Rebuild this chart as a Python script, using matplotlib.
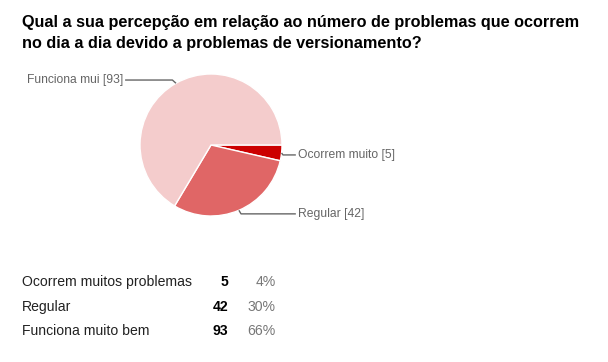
import matplotlib.pyplot as plt
import numpy as np

# survey answers (clockwise from 3 o'clock)
labels = ["Ocorrem muitos problemas", "Regular", "Funciona muito bem"]
short_labels = ["Ocorrem muito", "Regular", "Funciona mui"]
counts = [5, 42, 93]
colors = ["#cc0000", "#e06666", "#f4cccc"]
title = ("Qual a sua percepção em relação ao número de problemas que ocorrem\n"
         "no dia a dia devido a problemas de versionamento?")

plt.rcParams['font.family'] = ['Liberation Sans', 'DejaVu Sans']

W, H = 608, 362
fig = plt.figure(figsize=(W / 100, H / 100), dpi=100)

# pie axes covers whole figure; 71 px per unit, centre at (211, 145) px
cx, cy, r = 211, 145, 71
ax = fig.add_axes([0, 0, 1, 1])

wedges, _ = ax.pie(counts, colors=colors, startangle=0, counterclock=False,
                   radius=1, wedgeprops=dict(edgecolor='white', linewidth=1))
ax.set_xlim(-cx / r, (W - cx) / r)
ax.set_ylim((cy - H) / r, cy / r)
ax.axis('off')

# leader lines + labels
text_pos = {0: (1.225, -0.14), 1: (1.225, -0.97), 2: (-1.24, 0.915)}
for i, w in enumerate(wedges):
    mid = np.deg2rad((w.theta1 + w.theta2) / 2)
    x0, y0 = np.cos(mid), np.sin(mid)
    tx, ty = text_pos[i]
    if i == 2:
        x1, y1 = x0 - 0.05, ty
    elif i == 1:
        x1, y1 = x0 + 0.03, ty
    else:
        x1, y1 = x0 + 0.02, ty
    gap = 0.03 if tx > 0 else -0.03
    ax.plot([x0, x1, tx - gap], [y0, y1, ty], color='#666666', lw=1,
            solid_capstyle='butt')
    ax.text(tx, ty, f"{short_labels[i]} [{counts[i]}]", fontsize=8.7,
            color='#666666', va='center', ha='left' if tx > 0 else 'right')

fig.text(22 / W, 1 - 33 / H, title, fontsize=11.7, fontweight='bold',
         color='#000000', va='center', ha='left', linespacing=1.45)

# summary table
total = sum(counts)
row_y = [282, 307, 331]
for name, n, yy in zip(labels, counts, row_y):
    fy = 1 - yy / H
    fig.text(22 / W, fy, name, fontsize=10.1, color='#222222', va='center')
    fig.text(228 / W, fy, str(n), fontsize=10.1, fontweight='bold',
             color='#000000', va='center', ha='right')
    fig.text(276 / W, fy, f"{round(100 * n / total)}%", fontsize=10.1,
             color='#777777', va='center', ha='right')

fig.savefig('out.png', dpi=100, facecolor='white')
